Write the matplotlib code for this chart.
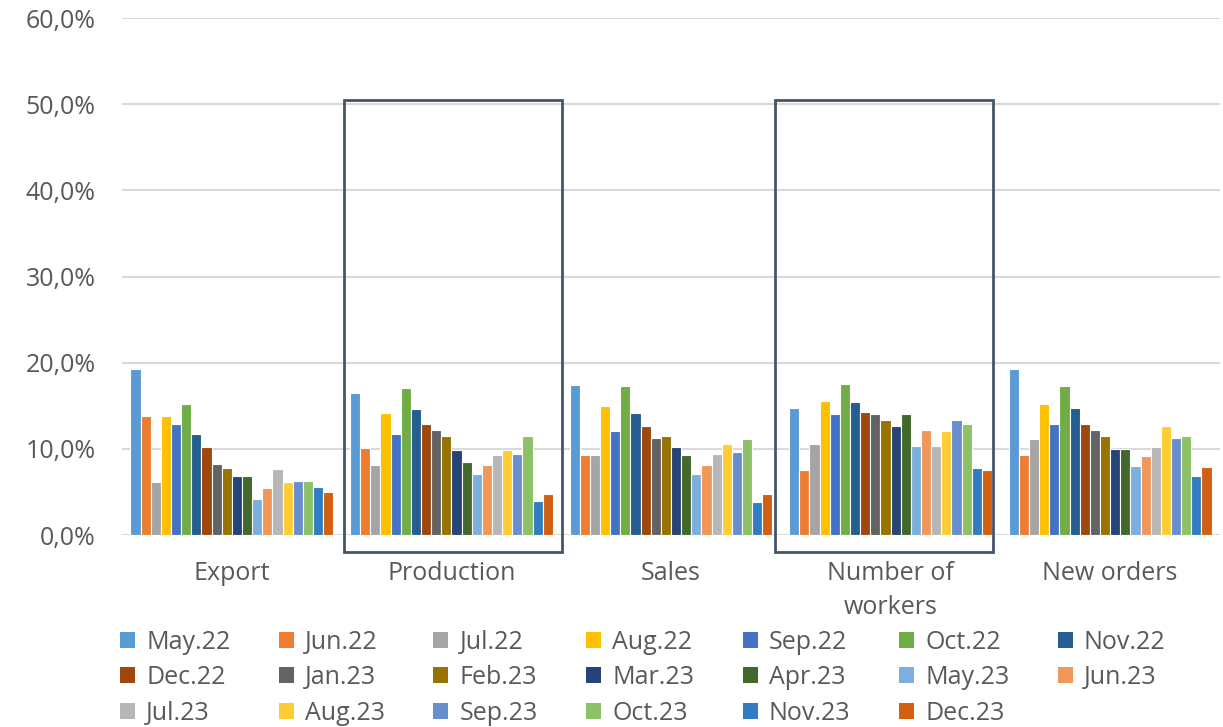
import matplotlib.pyplot as plt
import numpy as np
from matplotlib.patches import Patch, Rectangle
from matplotlib.ticker import FuncFormatter

categories = ['Export', 'Production', 'Sales', 'Number of\nworkers', 'New orders']
months = ['May.22', 'Jun.22', 'Jul.22', 'Aug.22', 'Sep.22', 'Oct.22', 'Nov.22',
          'Dec.22', 'Jan.23', 'Feb.23', 'Mar.23', 'Apr.23', 'May.23', 'Jun.23',
          'Jul.23', 'Aug.23', 'Sep.23', 'Oct.23', 'Nov.23', 'Dec.23']

# share of answers per category, one list per category (months in order)
export = [19.3, 13.8, 6.2, 13.8, 12.9, 15.2, 11.7, 10.2, 8.3, 7.8,
          6.8, 6.9, 4.2, 5.5, 7.7, 6.2, 6.3, 6.3, 5.6, 5.0]
production = [16.5, 10.1, 8.1, 14.2, 11.7, 17.1, 14.6, 12.9, 12.2, 11.5,
              9.9, 8.5, 7.1, 8.1, 9.3, 9.9, 9.4, 11.5, 3.9, 4.8]
sales = [17.4, 9.3, 9.3, 15.0, 12.1, 17.3, 14.2, 12.7, 11.3, 11.5,
         10.2, 9.3, 7.1, 8.1, 9.4, 10.6, 9.6, 11.2, 3.8, 4.8]
workers = [14.7, 7.6, 10.6, 15.6, 14.0, 17.5, 15.4, 14.3, 14.0, 13.4,
           12.7, 14.1, 10.3, 12.2, 10.3, 12.1, 13.3, 12.9, 7.8, 7.5]
new_orders = [19.3, 9.3, 11.1, 15.2, 12.9, 17.3, 14.8, 12.9, 12.2, 11.5,
              10.0, 10.0, 8.0, 9.2, 10.2, 12.7, 11.3, 11.5, 6.9, 7.9]

colors = ['#5B9BD5', '#ED7D31', '#A5A5A5', '#FFC000', '#4472C4', '#70AD47',
          '#255E91', '#9E480E', '#636363', '#997300', '#264478', '#43682B',
          '#7CAFDD', '#F1975A', '#B7B7B7', '#FFCD33', '#698ED0', '#8CC168',
          '#327DC2', '#D26012']

data = np.array([export, production, sales, workers, new_orders])  # (cat, month)

plt.rcParams['font.family'] = ['Open Sans', 'DejaVu Sans']
txt = '#595959'
fs = 18

fig = plt.figure(figsize=(12.23, 7.27), dpi=100)
ax = fig.add_axes([0.0998, 0.264, 0.8977, 0.711])

x = np.arange(len(categories))
slot = 0.924 / len(months)
for j, m in enumerate(months):
    off = (j - (len(months) - 1) / 2) * slot
    ax.bar(x + off, data[:, j], width=slot, color=colors[j],
           edgecolor='white', linewidth=0.8, zorder=3)

ax.set_xlim(-0.5, len(categories) - 0.5)
ax.set_ylim(0, 60)
ax.set_yticks(np.arange(0, 61, 10))
ax.yaxis.set_major_formatter(FuncFormatter(lambda v, p: f'{v:.1f}%'.replace('.', ',')))
ax.grid(axis='y', color='#D9D9D9', linewidth=1.5, zorder=0)
for s in ax.spines.values():
    s.set_visible(False)
ax.tick_params(length=0, labelsize=fs, colors=txt)
ax.tick_params(axis='y', pad=19)
ax.tick_params(axis='x', pad=19)
ax.set_xticks(x)
ax.set_xticklabels(categories, linespacing=1.45)

# highlight boxes around Production and Number of workers
for c in (0.511, 2.474):
    ax.add_patch(Rectangle((c, -2.0), 0.993, 52.5, fill=False,
                           edgecolor='#44546A', linewidth=2, zorder=5,
                           clip_on=False))

# legend reads row by row: reorder so column filling gives row order
ncol = 7
order = [r * ncol + c for c in range(ncol) for r in range(3) if r * ncol + c < len(months)]
handles = [Patch(facecolor=colors[i]) for i in order]
labels = [months[i] for i in order]
fig.legend(handles, labels, loc='upper left', bbox_to_anchor=(0.088, 0.151),
           ncol=ncol, frameon=False, fontsize=fs, labelcolor=txt,
           handlelength=0.6, handleheight=0.6, handletextpad=0.45,
           columnspacing=1.93, labelspacing=0.42, borderpad=0)

fig.savefig('out.png', dpi=100)
